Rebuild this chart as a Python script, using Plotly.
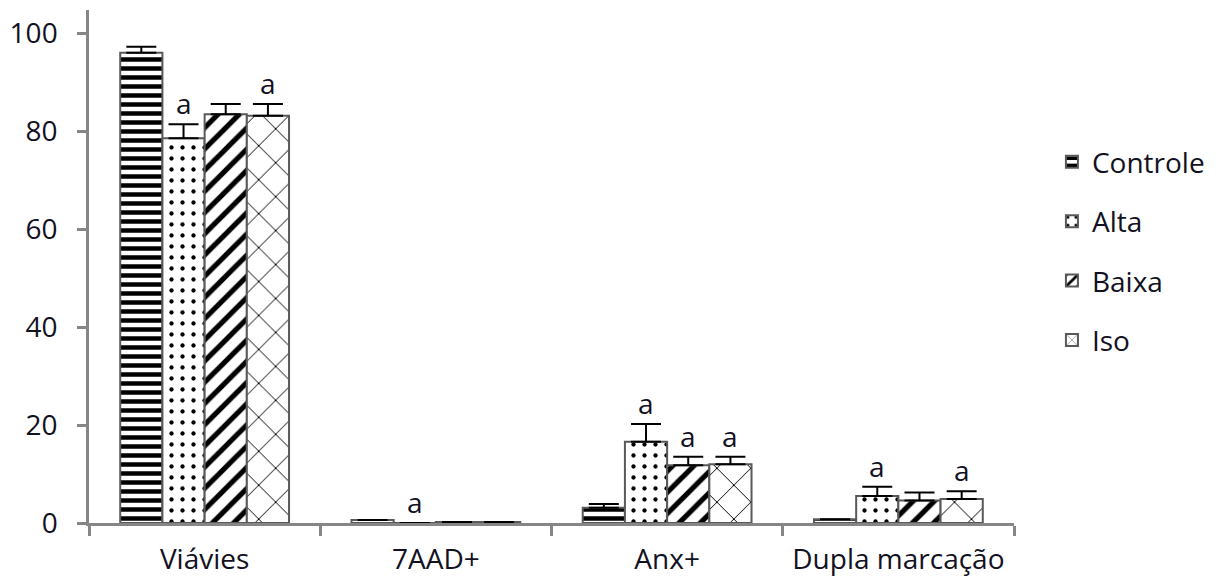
import plotly.graph_objects as go

categories = ["Viávies", "7AAD+", "Anx+", "Dupla marcação"]
series_names = ["Controle", "Alta", "Baixa", "Iso"]
controle = [96.0, 0.6, 3.1, 0.75]
alta = [78.5, 0.0, 16.6, 5.5]
baixa = [83.4, 0.2, 11.8, 4.6]
iso = [83.1, 0.2, 12.0, 4.9]
controle_err = [1.2, 0.0, 0.8, 0.0]
alta_err = [2.9, 0.0, 3.6, 1.9]
baixa_err = [2.1, 0.0, 1.7, 1.6]
iso_err = [2.4, 0.0, 1.5, 1.6]
# significance marks ("a") per series, per category
controle_sig = ["", "", "", ""]
alta_sig = ["a", "a", "a", "a"]
baixa_sig = ["", "", "a", ""]
iso_sig = ["a", "", "a", "a"]

values = [controle, alta, baixa, iso]
errors = [controle_err, alta_err, baixa_err, iso_err]
sigs = [controle_sig, alta_sig, baixa_sig, iso_sig]
patterns = [
    dict(shape="-", size=9, solidity=0.5),
    dict(shape=".", size=11, solidity=0.12),
    dict(shape="/", size=15, solidity=0.35),
    dict(shape="x", size=24, solidity=0.08),
]

FONT = "Open Sans"
FS = 28
TXT = "#111122"
xpos = list(range(len(categories)))
group_w = 0.73
bw = group_w / 4

fig = go.Figure()
annotations = []
for k, name in enumerate(series_names):
    off = -group_w / 2 + k * bw
    pat = dict(patterns[k])
    pat.update(fgcolor="black", bgcolor="white", fillmode="overlay", fgopacity=1)
    fig.add_trace(go.Bar(
        x=xpos, y=values[k], name=name, width=bw, offset=off,
        legendgroup=name,
        marker=dict(color="white", pattern=pat,
                    line=dict(color="#595959", width=2)),
        error_y=dict(type="data", array=errors[k], arrayminus=[0] * 4,
                     symmetric=False, color="black", thickness=2, width=15,
                     visible=True),
    ))
    for i in xpos:
        if sigs[k][i]:
            annotations.append(dict(
                x=i + off + bw / 2, y=values[k][i] + errors[k][i],
                xref="x", yref="y", text=sigs[k][i], showarrow=False,
                yanchor="bottom", yshift=0,
                font=dict(family=FONT, size=FS, color=TXT)))

fig.update_layout(
    width=1223, height=581,
    margin=dict(l=81, r=217, t=2, b=66),
    paper_bgcolor="white", plot_bgcolor="white",
    barmode="overlay",
    showlegend=True,
    legend=dict(x=1.041, xanchor="left", y=0.53, yanchor="middle",
                font=dict(family=FONT, size=FS, color=TXT),
                tracegroupgap=20, itemsizing="constant"),
    annotations=annotations,
    font=dict(family=FONT, color=TXT),
)
fig.update_xaxes(
    range=[-0.5, 3.5], tickvals=xpos, ticktext=categories, ticks="",
    showline=True, linecolor="#868686", linewidth=2.5, showgrid=False,
    tickfont=dict(family=FONT, size=FS, color=TXT), ticklabelstandoff=10,
    minor=dict(tickvals=[-0.5, 0.5, 1.5, 2.5, 3.5], ticks="outside",
               ticklen=10, tickcolor="#868686", tickwidth=2.5),
    zeroline=False,
)
fig.update_yaxes(
    range=[0, 104.7], tickvals=[0, 20, 40, 60, 80, 100], ticks="outside",
    ticklen=9, tickcolor="#868686", tickwidth=2.5, ticklabelstandoff=14,
    showline=True, linecolor="#868686", linewidth=2.5, showgrid=False,
    tickfont=dict(family=FONT, size=FS, color=TXT), zeroline=False,
)
fig.write_html("out.html")
